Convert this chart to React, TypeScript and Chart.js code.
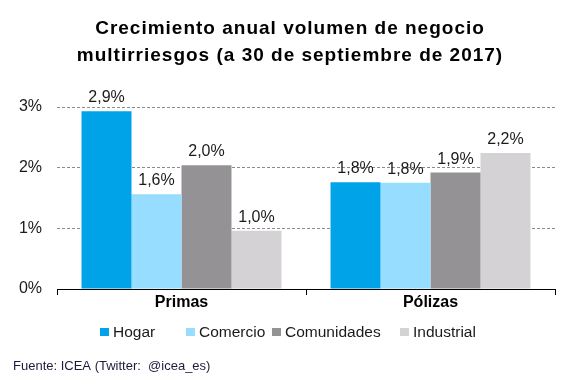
import React, { useEffect, useRef } from "react";
import { Chart, registerables } from "chart.js";

Chart.register(...registerables);

const categories = ["Primas", "Pólizas"];
const seriesNames = ["Hogar", "Comercio", "Comunidades", "Industrial"];
const hogar = [2.93, 1.76];
const comercio = [1.56, 1.751];
const comunidades = [2.04, 1.92];
const industrial = [0.96, 2.24];
const yTicks = [0, 1, 2, 3];
const titleLines = [
  "Crecimiento anual volumen de negocio",
  "multirriesgos (a 30 de septiembre de 2017)",
];
const sourceText = "Fuente: ICEA (Twitter:  @icea_es)";

const COLORS = ["#00a3e8", "#97ddff", "#949294", "#d4d2d5"];
const FONT = '"Liberation Sans", Arial, sans-serif';
const LEGEND_X = [100, 186, 272, 400];

const fmt = (v: number) => v.toFixed(1).replace(".", ",") + "%";

const decorPlugin = {
  id: "decor",
  afterDatasetsDraw(chart: any) {
    const ctx = chart.ctx;
    ctx.save();
    ctx.font = `16px ${FONT}`;
    ctx.fillStyle = "#1a1a1a";
    ctx.textAlign = "center";
    ctx.textBaseline = "alphabetic";
    chart.data.datasets.forEach((ds: any, i: number) => {
      const meta = chart.getDatasetMeta(i);
      meta.data.forEach((bar: any, j: number) => {
        ctx.fillText(fmt(ds.data[j]), bar.x, bar.y - 9);
      });
    });
    ctx.restore();
  },
  afterDraw(chart: any) {
    const ctx = chart.ctx;
    ctx.save();
    // title
    ctx.font = `bold 19px ${FONT}`;
    ctx.fillStyle = "#000";
    ctx.textAlign = "center";
    ctx.textBaseline = "alphabetic";
    (ctx as any).letterSpacing = "1px";
    titleLines.forEach((t, i) => ctx.fillText(t, 290, 34 + i * 27));
    (ctx as any).letterSpacing = "0px";
    // legend
    ctx.font = `15.5px ${FONT}`;
    ctx.textAlign = "left";
    seriesNames.forEach((name, i) => {
      const x = LEGEND_X[i];
      ctx.fillStyle = COLORS[i];
      ctx.fillRect(x, 328, 9, 8);
      ctx.fillStyle = "#1a1a1a";
      ctx.fillText(name, x + 13, 337);
    });
    // source
    ctx.font = `13px ${FONT}`;
    ctx.fillStyle = "#1c1c3a";
    ctx.fillText(sourceText, 13, 370);
    ctx.restore();
  },
};

export default function App() {
  const ref = useRef<HTMLCanvasElement>(null);
  useEffect(() => {
    const seriesData = [hogar, comercio, comunidades, industrial];
    const chart = new Chart(ref.current!, {
      type: "bar",
      data: {
        labels: categories,
        datasets: seriesNames.map((name, i) => ({
          label: name,
          data: seriesData[i],
          backgroundColor: COLORS[i],
          borderWidth: 0,
          categoryPercentage: 0.803,
          barPercentage: 1,
        })),
      },
      options: {
        animation: false,
        responsive: false,
        devicePixelRatio: 1,
        layout: { padding: { top: 107, bottom: 59, left: 0, right: 12 } },
        plugins: {
          legend: { display: false },
          title: { display: false },
          tooltip: { enabled: false },
        },
        scales: {
          x: {
            offset: true,
            grid: {
              offset: true,
              drawOnChartArea: false,
              drawTicks: true,
              tickLength: 6,
              color: "#000",
            },
            border: { display: true, color: "#000", width: 1, z: 1 },
            ticks: {
              font: { family: FONT, size: 16, weight: "bold", lineHeight: 1 },
              color: "#000",
              padding: 0,
            },
            afterFit: (s: any) => {
              s.height = 30;
            },
          },
          y: {
            min: 0,
            max: 3,
            afterBuildTicks: (s: any) => {
              s.ticks = yTicks.map((v) => ({ value: v }));
            },
            grid: {
              drawTicks: false,
              color: (c: any) => (c.tick && c.tick.value === 0 ? "rgba(0,0,0,0)" : "#8a8a8a"),
              lineWidth: 1,
            },
            border: { display: false, dash: [3, 2] },
            ticks: {
              font: { family: FONT, size: 16 },
              color: "#1a1a1a",
              padding: 15,
              callback: (v: any) => v + "%",
            },
            afterFit: (s: any) => {
              s.width = 57;
            },
          },
        },
      },
      plugins: [decorPlugin],
    });
    return () => chart.destroy();
  }, []);
  return (
    <div style={{ position: "fixed", left: 0, top: 0, width: 567, height: 378, background: "#fff" }}>
      <canvas ref={ref} width={567} height={378} />
    </div>
  );
}
